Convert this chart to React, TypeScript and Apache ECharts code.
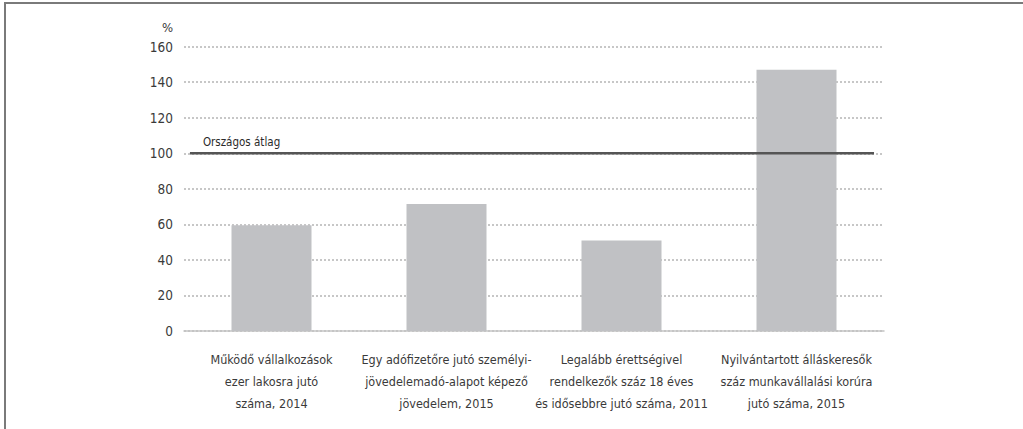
import React, { useEffect, useRef } from "react";
import * as echarts from "echarts";

const categories = [
  "Működő vállalkozások\nezer lakosra jutó\nszáma, 2014",
  "Egy adófizetőre jutó személyi-\njövedelemadó-alapot képező\njövedelem, 2015",
  "Legalább érettségivel\nrendelkezők száz 18 éves\nés idősebbre jutó száma, 2011",
  "Nyilvántartott álláskeresők\nszáz munkavállalási korúra\njutó száma, 2015",
];
const values = [59.5, 71.5, 51, 147];
const averageValue = 100;
const averageLabel = "Országos átlag";
// extent of the reference line, in category-band units (0..4)
const averageExtent = [0.034, 3.943];

const FONT = '"DejaVu Sans Condensed", "Liberation Sans Narrow", sans-serif';

export default function App() {
  const ref = useRef<HTMLDivElement>(null);
  useEffect(() => {
    if (!ref.current) return;
    const chart = echarts.init(ref.current, undefined, { renderer: "svg" });
    chart.setOption({
      animation: false,
      backgroundColor: "#ffffff",
      textStyle: { fontFamily: FONT },
      grid: { left: 178, right: 139, top: 42.7, bottom: 98, containLabel: false },
      xAxis: [
        {
          type: "category",
          data: categories,
          axisLine: { show: true, lineStyle: { color: "#c4c4c4", width: 1.5 } },
          axisTick: { show: false },
          axisLabel: {
            interval: 0,
            margin: 17,
            fontFamily: FONT,
            fontSize: 12.5,
            lineHeight: 22,
            color: "#3a3a3a",
          },
        },
        {
          type: "value",
          min: 0,
          max: 4,
          show: false,
        },
      ],
      yAxis: {
        type: "value",
        min: 0,
        max: 160,
        interval: 20,
        name: "%",
        nameLocation: "end",
        nameGap: 13,
        nameTextStyle: {
          fontFamily: FONT,
          fontSize: 13,
          color: "#3a3a3a",
          align: "right",
          padding: [0, 11, 0, 0],
        },
        axisLine: { show: false },
        axisTick: { show: false },
        axisLabel: { fontFamily: FONT, fontSize: 13.5, color: "#3a3a3a", margin: 11 },
        splitLine: {
          show: true,
          lineStyle: { color: "#b5b5b5", type: [2, 2], width: 1.5 },
        },
      },
      series: [
        {
          type: "bar",
          data: values,
          barWidth: 80,
          itemStyle: { color: "#c0c1c4" },
          silent: true,
        },
        {
          type: "line",
          xAxisIndex: 1,
          symbol: "circle",
          symbolSize: 0.1,
          showSymbol: true,
          lineStyle: { color: "#555555", width: 2.5 },
          itemStyle: { color: "#555555" },
          data: [
            {
              value: [averageExtent[0], averageValue],
              label: {
                show: true,
                formatter: averageLabel,
                position: [13, -17],
                align: "left",
                verticalAlign: "top",
                fontFamily: FONT,
                fontSize: 11.5,
                color: "#2a2a2a",
              },
            },
            [averageExtent[1], averageValue],
          ],
          silent: true,
          z: 5,
        },
      ],
    });
    return () => chart.dispose();
  }, []);
  return (
    <div
      style={{
        position: "absolute",
        left: 0,
        top: 0,
        width: 1023,
        height: 429,
        background: "#fff",
        boxSizing: "border-box",
      }}
    >
      <div
        style={{
          position: "absolute",
          left: 4,
          top: 2,
          right: 0,
          bottom: 0,
          borderTop: "2px solid #7a7a7a",
          borderLeft: "2px solid #7a7a7a",
        }}
      />
      <div ref={ref} style={{ position: "absolute", left: 6, top: 4, width: 1017, height: 425 }} />
    </div>
  );
}
